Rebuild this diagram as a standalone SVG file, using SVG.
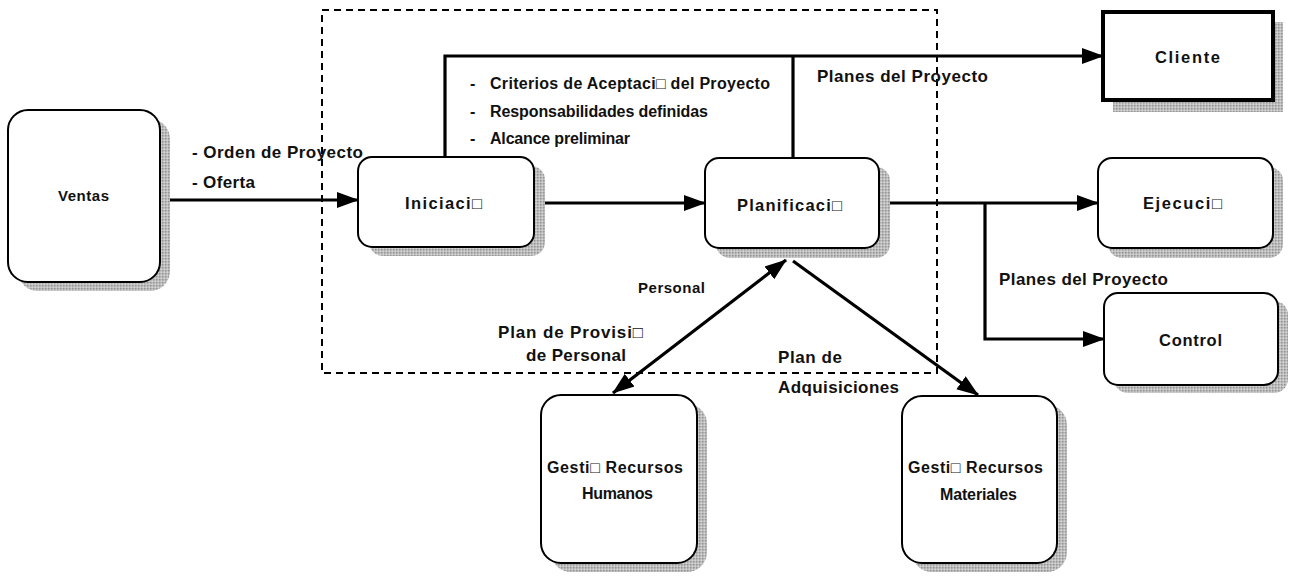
<svg xmlns="http://www.w3.org/2000/svg" width="1292" height="576" viewBox="0 0 1292 576">
  <defs>
    <!-- halftone grey used for the drop shadows -->
    <pattern id="halftone" width="3" height="3" patternUnits="userSpaceOnUse">
      <rect width="3" height="3" fill="#bdbdbd"/>
      <rect width="1.5" height="1.5" fill="#969696"/>
      <rect x="1.5" y="1.5" width="1.5" height="1.5" fill="#d4d4d4"/>
    </pattern>
    <marker id="arrow" markerWidth="22" markerHeight="18" refX="21" refY="9" orient="auto-start-reverse" markerUnits="userSpaceOnUse">
      <path d="M0,1 L22,9 L0,17 z" fill="#000"/>
    </marker>
    <style>
      .shadow { fill: url(#halftone); stroke: none; }
      .box { fill: #fff; stroke: #000; stroke-width: 2; }
      .boxThick { fill: #fff; stroke: #000; stroke-width: 4; }
      .wire { fill: none; stroke: #000; stroke-width: 3.2; }
      .scope { fill: none; stroke: #000; stroke-width: 2; stroke-dasharray: 7 5; }
      text { font-family: "Liberation Sans", Arial, "DejaVu Sans", sans-serif; font-weight: bold; fill: #111; }
      .lbl { font-size: 17px; }
      .node { font-size: 16.5px; }
      .small { font-size: 16px; }
      .tiny { font-size: 15px; }
    </style>
  </defs>

  <rect width="1292" height="576" fill="#fff"/>

  <!-- process scope -->
  <rect class="scope" x="322" y="10" width="615" height="363"/>

  <g id="connectors">
    <path class="wire" d="M160,200 H358" marker-end="url(#arrow)"/>
    <path class="wire" d="M545,203 H705" marker-end="url(#arrow)"/>
    <path class="wire" d="M445,157 V56 H1103" marker-end="url(#arrow)"/>
    <path class="wire" d="M793,56 V158"/>
    <path class="wire" d="M890,203 H1098" marker-end="url(#arrow)"/>
    <path class="wire" d="M985,203 V339 H1104" marker-end="url(#arrow)"/>
    <path class="wire" d="M613,393 L786,260" marker-start="url(#arrow)" marker-end="url(#arrow)"/>
    <path class="wire" d="M793,261 L978,395" marker-end="url(#arrow)"/>
  </g>

  <g id="connector-labels">
    <text class="lbl" x="192" y="158" textLength="171" lengthAdjust="spacing">- Orden de Proyecto</text>
    <text class="lbl" x="192" y="188" textLength="63" lengthAdjust="spacing">- Oferta</text>
    <text class="small" x="470" y="89">-</text>
    <text class="small" x="490" y="89" textLength="280" lengthAdjust="spacing">Criterios de Aceptaci□  del Proyecto</text>
    <text class="small" x="470" y="117">-</text>
    <text class="small" x="490" y="117" textLength="218" lengthAdjust="spacing">Responsabilidades definidas</text>
    <text class="small" x="470" y="144">-</text>
    <text class="small" x="490" y="144" textLength="140" lengthAdjust="spacing">Alcance preliminar</text>
    <text class="lbl" x="817" y="82" textLength="171" lengthAdjust="spacing">Planes del Proyecto</text>
    <text class="lbl" x="999" y="285" textLength="169" lengthAdjust="spacing">Planes del Proyecto</text>
    <text class="tiny" x="638" y="293" textLength="67" lengthAdjust="spacing">Personal</text>
    <text class="lbl" x="498" y="338" textLength="145" lengthAdjust="spacing">Plan de Provisi□</text>
    <text class="lbl" x="526" y="361" textLength="100" lengthAdjust="spacing">de Personal</text>
    <text class="lbl" x="778" y="363" textLength="64" lengthAdjust="spacing">Plan de</text>
    <text class="lbl" x="778" y="393" textLength="121" lengthAdjust="spacing">Adquisiciones</text>
  </g>

  <g id="ventas">
    <rect class="shadow" x="18" y="119" width="152" height="172" rx="20"/>
    <rect class="box" x="8" y="110" width="152" height="172" rx="20"/>
    <text class="tiny" x="58" y="201" textLength="51" lengthAdjust="spacing">Ventas</text>
  </g>

  <g id="iniciacion">
    <rect class="shadow" x="369" y="166" width="176" height="90" rx="14"/>
    <rect class="box" x="358" y="157" width="176" height="90" rx="14"/>
    <text class="node" x="405" y="209" textLength="77" lengthAdjust="spacing">Iniciaci□</text>
  </g>

  <g id="planificacion">
    <rect class="shadow" x="716" y="167" width="174" height="91" rx="14"/>
    <rect class="box" x="705" y="158" width="174" height="90" rx="14"/>
    <text class="node" x="737" y="211" textLength="105" lengthAdjust="spacing">Planificaci□</text>
  </g>

  <g id="cliente">
    <rect class="shadow" x="1113" y="22" width="170" height="90"/>
    <rect class="boxThick" x="1103" y="12" width="170" height="88"/>
    <text class="node" x="1155" y="63" textLength="65" lengthAdjust="spacing">Cliente</text>
  </g>

  <g id="ejecucion">
    <rect class="shadow" x="1108" y="167" width="175" height="91" rx="14"/>
    <rect class="box" x="1098" y="158" width="175" height="90" rx="14"/>
    <text class="node" x="1143" y="209" textLength="79" lengthAdjust="spacing">Ejecuci□</text>
  </g>

  <g id="control">
    <rect class="shadow" x="1114" y="301" width="174" height="92" rx="14"/>
    <rect class="box" x="1104" y="293" width="174" height="92" rx="14"/>
    <text class="node" x="1159" y="346" textLength="63" lengthAdjust="spacing">Control</text>
  </g>

  <g id="gestion-rrhh">
    <rect class="shadow" x="551" y="404" width="156" height="168" rx="20"/>
    <rect class="box" x="541" y="395" width="156" height="168" rx="20"/>
    <text class="small" x="547" y="473" textLength="136" lengthAdjust="spacing">Gesti□  Recursos</text>
    <text class="small" x="582" y="499" textLength="71" lengthAdjust="spacing">Humanos</text>
  </g>

  <g id="gestion-materiales">
    <rect class="shadow" x="912" y="405" width="155" height="167" rx="20"/>
    <rect class="box" x="902" y="396" width="155" height="167" rx="20"/>
    <text class="small" x="908" y="473" textLength="135" lengthAdjust="spacing">Gesti□  Recursos</text>
    <text class="small" x="940" y="500" textLength="77" lengthAdjust="spacing">Materiales</text>
  </g>
</svg>
